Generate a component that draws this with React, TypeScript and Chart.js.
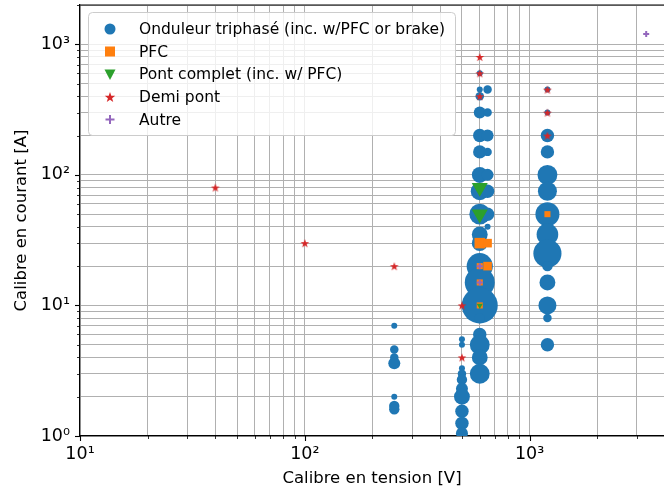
import React, { useEffect, useRef } from 'react';
import { Chart, registerables } from 'chart.js';

Chart.register(...registerables);

// ---------------- data ----------------
const seriesLabels = [
  'Onduleur triphasé (inc. w/PFC or brake)',
  'PFC',
  'Pont complet (inc. w/ PFC)',
  'Demi pont',
  'Autre',
];

// Onduleur triphasé: voltage [V], current [A], number of products (marker area)
const inverterV = [
  250, 250, 250, 250, 250, 250, 250,
  500, 500, 500, 500, 500, 500, 500, 500, 500, 500,
  600, 600, 600, 600, 600, 600, 600, 600, 600, 600, 600, 600, 600, 600, 600, 600, 600, 600, 600,
  650, 650, 650, 650, 650, 650, 650, 650,
  1200, 1200, 1200, 1200, 1200, 1200, 1200, 1200, 1200, 1200, 1200, 1200, 1200, 1200,
];
const inverterA = [
  7, 4.6, 4.0, 3.6, 2.0, 1.7, 1.6,
  5.5, 5, 3.3, 3.0, 2.7, 2.3, 2.0, 1.55, 1.25, 1.05,
  600, 450, 400, 300, 200, 150, 100, 75, 50, 35, 30, 20, 15, 10, 8, 6, 5, 4, 3,
  450, 300, 200, 150, 100, 75, 50, 40,
  450, 300, 200, 150, 100, 75, 50, 35, 25, 20, 15, 10, 8, 5,
];
const inverterCount = [
  1, 2, 2, 4, 1, 3, 3,
  1, 1, 1, 2, 3, 4, 7, 5, 5, 4,
  1, 1, 2, 4, 5, 5, 7, 9, 12, 7, 7, 19, 25, 36, 3, 5, 11, 7, 11,
  2, 2, 4, 2, 4, 5, 5, 1,
  1, 1, 5, 5, 11, 10, 16, 13, 22, 3, 7, 9, 2, 5,
];

// PFC
const pfcV = [600, 650, 600, 650, 600, 600, 1200];
const pfcA = [30, 30, 20, 20, 15, 10, 50];
const pfcCount = [3, 2, 1, 2, 1, 1, 1];

// Pont complet
const fullBridgeV = [600, 600, 600];
const fullBridgeA = [80, 50, 10];
const fullBridgeCount = [7, 7, 1];

// Demi pont
const halfBridgeV = [40, 100, 250, 500, 500, 600, 600, 600, 1200, 1200, 1200];
const halfBridgeA = [80, 30, 20, 10, 4, 800, 600, 400, 450, 300, 200];

// Autre
const otherV = [600, 600, 3300];
const otherA = [20, 15, 1200];

// axes
const xTickValues = [10, 20, 30, 40, 50, 60, 70, 80, 90, 100, 200, 300, 400, 500, 600, 700, 800, 900, 1000, 2000, 3000];
const yTickValues = [1, 2, 3, 4, 5, 6, 7, 8, 9, 10, 20, 30, 40, 50, 60, 70, 80, 90, 100, 200, 300, 400, 500, 600, 700, 800, 900, 1000, 2000];
const xTitle = 'Calibre en tension [V]';
const yTitle = 'Calibre en courant [A]';

// ---------------- helpers ----------------
const COLORS = ['#1f77b4', '#ff7f0e', '#2ca02c', '#d62728', '#9467bd'];
const FONT = '"DejaVu Sans", sans-serif';
const SUP: Record<string, string> = { '0': '⁰', '1': '¹', '2': '²', '3': '³', '4': '⁴', '-': '⁻' };

function isPow10(v: number) {
  const l = Math.log10(v);
  return Math.abs(l - Math.round(l)) < 1e-9;
}
function powLabel(v: number) {
  if (!isPow10(v)) return '';
  const e = String(Math.round(Math.log10(v)));
  return '10' + e.split('').map((c) => SUP[c] || c).join('');
}
function pts(xs: number[], ys: number[]) {
  return xs.map((x, i) => ({ x, y: ys[i] }));
}

function makeStar(outer: number, color: string) {
  const size = Math.ceil(outer * 2 + 2);
  const c = document.createElement('canvas');
  c.width = size;
  c.height = size;
  const g = c.getContext('2d')!;
  drawStar(g, size / 2, size / 2 + 0.5, outer, color);
  return c;
}
function drawStar(g: CanvasRenderingContext2D, cx: number, cy: number, outer: number, color: string) {
  g.fillStyle = color;
  g.beginPath();
  for (let i = 0; i < 10; i++) {
    const r = i % 2 === 0 ? outer : outer * 0.4;
    const a = -Math.PI / 2 + (i * Math.PI) / 5;
    const px = cx + r * Math.cos(a);
    const py = cy + r * Math.sin(a);
    if (i === 0) g.moveTo(px, py);
    else g.lineTo(px, py);
  }
  g.closePath();
  g.fill();
}

function zeroPad(s: any) {
  s.paddingTop = 0;
  s.paddingBottom = 0;
  s.paddingLeft = 0;
  s.paddingRight = 0;
}

const axesPlugin = {
  id: 'axesExtras',
  afterDraw(chart: any) {
    const { ctx, chartArea } = chart;
    const { left, right, top, bottom } = chartArea;
    const xs = chart.scales.x;
    const ys = chart.scales.y;
    ctx.save();
    // top spine
    ctx.strokeStyle = '#000';
    ctx.lineWidth = 1.2;
    ctx.beginPath();
    ctx.moveTo(left, top);
    ctx.lineTo(right + 1, top);
    ctx.stroke();
    // tick marks
    xTickValues.forEach((v) => {
      const px = Math.round(xs.getPixelForValue(v)) + 0.5;
      const len = isPow10(v) ? 5 : 3;
      ctx.lineWidth = isPow10(v) ? 1.1 : 0.8;
      ctx.beginPath();
      ctx.moveTo(px, bottom);
      ctx.lineTo(px, bottom + len);
      ctx.stroke();
    });
    yTickValues.forEach((v) => {
      const py = Math.round(ys.getPixelForValue(v)) + 0.5;
      const len = isPow10(v) ? 5 : 3;
      ctx.lineWidth = isPow10(v) ? 1.1 : 0.8;
      ctx.beginPath();
      ctx.moveTo(left - len, py);
      ctx.lineTo(left, py);
      ctx.stroke();
    });

    // legend
    const bx = 88.5, by = 12.5, bw = 367, bh = 123, br = 4;
    ctx.beginPath();
    ctx.moveTo(bx + br, by);
    ctx.lineTo(bx + bw - br, by);
    ctx.arcTo(bx + bw, by, bx + bw, by + br, br);
    ctx.lineTo(bx + bw, by + bh - br);
    ctx.arcTo(bx + bw, by + bh, bx + bw - br, by + bh, br);
    ctx.lineTo(bx + br, by + bh);
    ctx.arcTo(bx, by + bh, bx, by + bh - br, br);
    ctx.lineTo(bx, by + br);
    ctx.arcTo(bx, by, bx + br, by, br);
    ctx.closePath();
    ctx.fillStyle = 'rgba(255,255,255,0.8)';
    ctx.fill();
    ctx.strokeStyle = '#cccccc';
    ctx.lineWidth = 1;
    ctx.stroke();

    const mx = 110;
    const tx = 139;
    const rowY = [29, 51.5, 74, 97, 119.5];
    seriesLabels.forEach((lab, i) => {
      const y = rowY[i];
      ctx.fillStyle = COLORS[i];
      ctx.strokeStyle = COLORS[i];
      if (i === 0) {
        ctx.beginPath();
        ctx.arc(mx, y, 5.5, 0, Math.PI * 2);
        ctx.fill();
      } else if (i === 1) {
        ctx.fillRect(mx - 5, y - 5, 10, 10);
      } else if (i === 2) {
        ctx.beginPath();
        ctx.moveTo(mx - 5.5, y - 4.5);
        ctx.lineTo(mx + 5.5, y - 4.5);
        ctx.lineTo(mx, y + 6);
        ctx.closePath();
        ctx.fill();
      } else if (i === 3) {
        drawStar(ctx, mx, y + 0.5, 5.5, COLORS[3]);
      } else {
        ctx.lineWidth = 2;
        ctx.beginPath();
        ctx.moveTo(mx - 4.5, y);
        ctx.lineTo(mx + 4.5, y);
        ctx.moveTo(mx, y - 4.5);
        ctx.lineTo(mx, y + 4.5);
        ctx.stroke();
      }
      ctx.fillStyle = '#000';
      ctx.font = '15.5px ' + FONT;
      ctx.textBaseline = 'middle';
      ctx.textAlign = 'left';
      ctx.fillText(lab, tx, y + 1);
    });
    ctx.restore();
  },
};

export default function App() {
  const ref = useRef<HTMLCanvasElement>(null);
  useEffect(() => {
    const star = makeStar(4.6, COLORS[3]);
    const chart = new Chart(ref.current!, {
      type: 'scatter',
      data: {
        datasets: [
          {
            label: seriesLabels[0],
            data: pts(inverterV, inverterA),
            pointStyle: 'circle',
            pointRadius: inverterCount.map((c) => 3 * Math.sqrt(c)),
            backgroundColor: COLORS[0],
            borderWidth: 0,
            order: 5,
          },
          {
            label: seriesLabels[1],
            data: pts(pfcV, pfcA),
            pointStyle: 'rect',
            pointRadius: pfcCount.map((c) => 4.3 * Math.sqrt(c)),
            backgroundColor: COLORS[1],
            borderWidth: 0,
            order: 4,
          },
          {
            label: seriesLabels[2],
            data: pts(fullBridgeV, fullBridgeA),
            pointStyle: 'triangle',
            rotation: 180,
            pointRadius: fullBridgeCount.map((c) => 3.5 * Math.sqrt(c)),
            backgroundColor: COLORS[2],
            borderWidth: 0,
            order: 3,
          },
          {
            label: seriesLabels[3],
            data: pts(halfBridgeV, halfBridgeA),
            pointStyle: star as any,
            pointRadius: 5,
            backgroundColor: COLORS[3],
            borderWidth: 0,
            order: 2,
          },
          {
            label: seriesLabels[4],
            data: pts(otherV, otherA),
            pointStyle: 'cross',
            pointRadius: 3,
            borderColor: COLORS[4],
            backgroundColor: COLORS[4],
            borderWidth: 2,
            order: 1,
          },
        ] as any,
      },
      options: {
        animation: false,
        responsive: false,
        events: [],
        layout: { autoPadding: false, padding: { top: 5, left: 0, right: 0, bottom: 0 } },
        plugins: { legend: { display: false }, tooltip: { enabled: false } },
        scales: {
          x: {
            type: 'logarithmic',
            position: 'bottom',
            min: 10,
            max: 3960,
            afterBuildTicks: (s: any) => {
              s.ticks = xTickValues.map((v) => ({ value: v }));
            },
            afterFit: (s: any) => {
              s.height = 53;
              zeroPad(s);
            },
            ticks: {
              autoSkip: false,
              maxRotation: 0,
              minRotation: 0,
              padding: 8,
              color: '#000',
              font: { family: FONT, size: 17.5 },
              callback: (v: any) => powLabel(Number(v)),
            },
            grid: { color: '#b0b0b0', lineWidth: 1, drawTicks: false },
            border: { color: '#000', width: 1.2 },
            title: {
              display: true,
              text: xTitle,
              color: '#000',
              font: { family: FONT, size: 16.5 },
              padding: { top: 0, bottom: 0 },
            },
          },
          y: {
            type: 'logarithmic',
            position: 'left',
            min: 1,
            max: 2000,
            afterBuildTicks: (s: any) => {
              s.ticks = yTickValues.map((v) => ({ value: v }));
            },
            afterFit: (s: any) => {
              s.width = 80;
              zeroPad(s);
            },
            ticks: {
              autoSkip: false,
              padding: 10,
              color: '#000',
              font: { family: FONT, size: 17.5 },
              callback: (v: any) => powLabel(Number(v)),
            },
            grid: { color: '#b0b0b0', lineWidth: 1, drawTicks: false },
            border: { color: '#000', width: 1.2 },
            title: {
              display: true,
              text: yTitle,
              color: '#000',
              font: { family: FONT, size: 16.5 },
              padding: { top: 12, bottom: 0 },
            },
          },
        },
      } as any,
      plugins: [axesPlugin],
    });
    return () => chart.destroy();
  }, []);
  return (
    <div style={{ position: 'fixed', left: 0, top: 0, width: 664, height: 489, background: '#fff' }}>
      <canvas ref={ref} width={664} height={489} style={{ display: 'block' }} />
    </div>
  );
}
